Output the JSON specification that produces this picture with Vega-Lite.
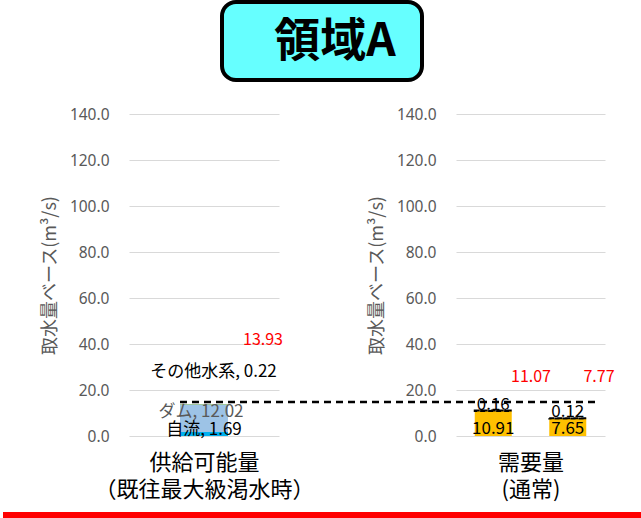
{
  "$schema": "https://vega.github.io/schema/vega-lite/v6.json",
  "padding": 0,
  "background": "white",
  "bounds": "flush",
  "spacing": 112,
  "config": {
    "view": {"stroke": null},
    "font": "Noto Sans CJK JP",
    "axisY": {"grid": true, "gridColor": "#D9D9D9", "gridWidth": 1, "domain": false, "ticks": false, "labelPadding": 20, "labelFont": "Noto Sans", "labelFontSize": 15.5, "labelColor": "#595959", "titleFont": "Noto Sans CJK JP", "titleFontSize": 18, "titleFontWeight": "normal", "titleColor": "#595959", "titlePadding": 10},
    "axisX": {"labels": false, "ticks": false, "domain": false, "grid": false, "titleFont": "Noto Sans CJK JP", "titleFontSize": 22, "titleFontWeight": "normal", "titleColor": "#000000", "titleLineHeight": 27, "titlePadding": 16}
  },
  "vconcat": [
    {
      "bounds": "flush",
      "spacing": 0,
      "hconcat": [
        {"width": 93, "height": 78, "data": {"values": [{}]}, "mark": {"type": "text", "text": ""}, "encoding": {}},
        {
          "width": 200, "height": 78,
          "view": {"fill": "#66FFFF", "stroke": "#000000", "strokeWidth": 4, "cornerRadius": 14},
          "data": {"values": [{"title": "領域A"}]},
          "mark": {"type": "text", "fontSize": 46, "fontWeight": "bold", "font": "Noto Sans CJK JP", "color": "#000000", "align": "center", "baseline": "middle", "dx": 13, "dy": 1},
          "encoding": {"text": {"field": "title"}}
        }
      ]
    },
    {
      "bounds": "flush",
      "spacing": 177,
      "hconcat": [
        {
          "width": 150, "height": 322,
          "data": {"values": [
            {"group": "供給可能量", "source": "自流", "value": 1.69, "seq": 1},
            {"group": "供給可能量", "source": "ダム", "value": 12.02, "seq": 2},
            {"group": "供給可能量", "source": "その他水系", "value": 0.22, "seq": 3}
          ]},
          "transform": [
            {"stack": "value", "groupby": ["group"], "sort": [{"field": "seq"}], "as": ["v0", "v1"]},
            {"joinaggregate": [{"op": "sum", "field": "value", "as": "total"}]},
            {"calculate": "datum.source + ', ' + format(datum.value, '.2f')", "as": "label"}
          ],
          "resolve": {"scale": {"x": "independent"}},
          "layer": [
            {
              "mark": {"type": "bar", "width": 48},
              "encoding": {
                "x": {"field": "group", "type": "nominal", "axis": {"title": ["供給可能量", "（既往最大級渇水時）"]}},
                "y": {"field": "v0", "type": "quantitative", "scale": {"domain": [0, 140], "nice": false}, "axis": {"title": "取水量ベース(m³/s)", "values": [0, 20, 40, 60, 80, 100, 120, 140], "format": ".1f"}},
                "y2": {"field": "v1"},
                "color": {"field": "source", "type": "nominal", "scale": {"domain": ["自流", "ダム", "その他水系"], "range": ["#00B0F0", "#9DC3E6", "#70AD47"]}, "legend": null}
              }
            },
            {
              "transform": [{"filter": "datum.seq == 1"}],
              "mark": {"type": "text", "fontSize": 17, "color": "#000000", "baseline": "middle", "align": "center", "dy": -2.6},
              "encoding": {
                "x": {"field": "group", "type": "nominal", "axis": null},
                "y": {"field": "v1", "type": "quantitative"},
                "text": {"field": "label"}
              }
            },
            {
              "transform": [{"filter": "datum.seq == 2"}],
              "mark": {"type": "text", "fontSize": 17, "color": "#595959", "baseline": "middle", "align": "center", "dx": -3, "dy": 7.5},
              "encoding": {
                "x": {"field": "group", "type": "nominal", "axis": null},
                "y": {"field": "v1", "type": "quantitative"},
                "text": {"field": "label"}
              }
            },
            {
              "transform": [{"filter": "datum.seq == 3"}],
              "mark": {"type": "text", "fontSize": 17, "color": "#000000", "baseline": "middle", "align": "center", "dx": 9.5, "dy": -32},
              "encoding": {
                "x": {"field": "group", "type": "nominal", "axis": null},
                "y": {"field": "v1", "type": "quantitative"},
                "text": {"field": "label"}
              }
            },
            {
              "transform": [{"filter": "datum.seq == 3"}],
              "mark": {"type": "text", "fontSize": 16, "color": "#FF0000", "baseline": "middle", "align": "center", "dx": 59, "dy": -63.5},
              "encoding": {
                "x": {"field": "group", "type": "nominal", "axis": null},
                "y": {"field": "total", "type": "quantitative"},
                "text": {"field": "total", "type": "quantitative", "format": ".2f"}
              }
            },
            {
              "transform": [{"filter": "datum.seq == 3"}],
              "mark": {"type": "rule", "color": "#000000", "strokeWidth": 2.5, "strokeDash": [7, 5]},
              "encoding": {
                "x": {"datum": 51, "type": "quantitative", "scale": {"domain": [0, 150], "zero": false, "nice": false}, "axis": null},
                "x2": {"datum": 467},
                "y": {"datum": 14.8, "type": "quantitative"}
              }
            },
            {
              "transform": [{"filter": "datum.seq == 3"}],
              "mark": {"type": "rule", "color": "#FF0000", "strokeWidth": 6},
              "encoding": {
                "x": {"datum": -126, "type": "quantitative", "scale": {"domain": [0, 150], "zero": false, "nice": false}, "axis": null},
                "x2": {"datum": 515},
                "y": {"datum": -34.35, "type": "quantitative"}
              }
            }
          ]
        },
        {
          "width": 149, "height": 322,
          "data": {"values": [
            {"case": "需要量1", "seq": 1, "value": 10.91},
            {"case": "需要量1", "seq": 2, "value": 0.16},
            {"case": "需要量2", "seq": 1, "value": 7.65},
            {"case": "需要量2", "seq": 2, "value": 0.12}
          ]},
          "transform": [
            {"stack": "value", "groupby": ["case"], "sort": [{"field": "seq"}], "as": ["v0", "v1"]},
            {"joinaggregate": [{"op": "sum", "field": "value", "as": "total"}], "groupby": ["case"]}
          ],
          "layer": [
            {
              "transform": [{"filter": "datum.seq == 1"}],
              "mark": {"type": "bar", "width": 37, "color": "#FFC000"},
              "encoding": {
                "x": {"field": "case", "type": "nominal", "scale": {"paddingInner": 0, "paddingOuter": 0}, "axis": {"title": ["需要量", "(通常)"]}},
                "y": {"field": "v0", "type": "quantitative", "scale": {"domain": [0, 140], "nice": false}, "axis": {"title": "取水量ベース(m³/s)", "values": [0, 20, 40, 60, 80, 100, 120, 140], "format": ".1f"}},
                "y2": {"field": "v1"}
              }
            },
            {
              "transform": [{"filter": "datum.seq == 2"}],
              "mark": {"type": "bar", "width": 37, "fill": "transparent", "stroke": "#000000", "strokeWidth": 2, "strokeDash": [5, 3]},
              "encoding": {
                "x": {"field": "case", "type": "nominal"},
                "y": {"field": "v0", "type": "quantitative"},
                "y2": {"field": "v1"}
              }
            },
            {
              "transform": [{"filter": "datum.seq == 1"}],
              "mark": {"type": "text", "fontSize": 17, "color": "#000000", "baseline": "middle", "align": "center", "dy": -7.5},
              "encoding": {
                "x": {"field": "case", "type": "nominal"},
                "y": {"field": "v0", "type": "quantitative"},
                "text": {"field": "value", "type": "quantitative", "format": ".2f"}
              }
            },
            {
              "transform": [{"filter": "datum.seq == 2"}],
              "mark": {"type": "text", "fontSize": 17, "color": "#000000", "baseline": "middle", "align": "center", "dy": -6},
              "encoding": {
                "x": {"field": "case", "type": "nominal"},
                "y": {"field": "v1", "type": "quantitative"},
                "text": {"field": "value", "type": "quantitative", "format": ".2f"}
              }
            },
            {
              "transform": [{"filter": "datum.seq == 2 && datum.case == '需要量1'"}],
              "mark": {"type": "text", "fontSize": 16, "color": "#FF0000", "baseline": "middle", "align": "center", "dx": 37.75, "dy": -34},
              "encoding": {
                "x": {"field": "case", "type": "nominal"},
                "y": {"field": "total", "type": "quantitative"},
                "text": {"field": "total", "type": "quantitative", "format": ".2f"}
              }
            },
            {
              "transform": [{"filter": "datum.seq == 2 && datum.case == '需要量2'"}],
              "mark": {"type": "text", "fontSize": 16, "color": "#FF0000", "baseline": "middle", "align": "center", "dx": 31.25, "dy": -41.6},
              "encoding": {
                "x": {"field": "case", "type": "nominal"},
                "y": {"field": "total", "type": "quantitative"},
                "text": {"field": "total", "type": "quantitative", "format": ".2f"}
              }
            }
          ]
        }
      ]
    }
  ]
}
